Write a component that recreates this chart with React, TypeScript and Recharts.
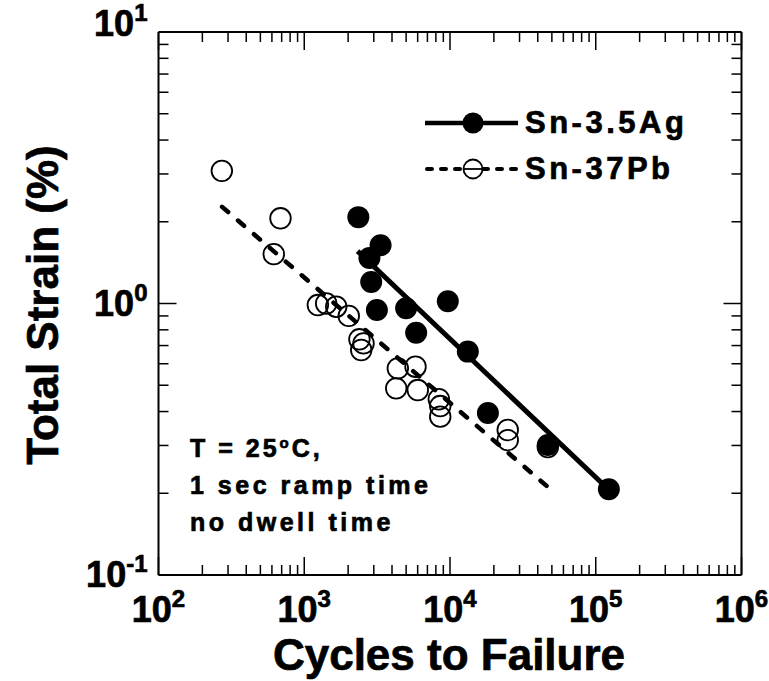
import { ScatterChart, Scatter, XAxis, YAxis, Customized } from "recharts"

const FONT = '"Liberation Sans", Arial, Helvetica, sans-serif'

// Sn-3.5Ag (filled symbols)
const agCycles = [2350, 3340, 2800, 2880, 3150, 5000, 5860, 9660, 13250, 18200, 46900, 123000]
const agStrain = [2.08, 1.64, 1.47, 1.2, 0.946, 0.96, 0.78, 1.02, 0.665, 0.395, 0.301, 0.207]

// Sn-37Pb (open symbols)
const pbCycles = [272, 687, 618, 1240, 1414, 1657, 2020, 2390, 2550, 2460, 4385, 5800, 4275, 6010, 8380, 8570, 8570, 24900, 24900, 46900]
const pbStrain = [3.08, 2.06, 1.52, 0.987, 1.0, 0.973, 0.9, 0.738, 0.713, 0.674, 0.577, 0.585, 0.487, 0.48, 0.444, 0.419, 0.383, 0.342, 0.314, 0.296]

// power-law fit lines (end points)
const agFitCycles = [2320, 122000]
const agFitStrain = [1.56, 0.207]
const pbFitCycles = [273, 46900]
const pbFitStrain = [2.27, 0.211]

const xDecades = [100, 1000, 10000, 100000, 1000000]
const yDecades = [0.1, 1, 10]
const minorSteps = [2, 3, 4, 5, 6, 7, 8, 9]

const seriesNames = ["Sn-3.5Ag", "Sn-37Pb"]
const notes = ["1 sec ramp time", "no dwell time"]

const withMinors = (decades: number[]) =>
  decades.flatMap((d, i) =>
    i < decades.length - 1 ? [d, ...minorSteps.map((m) => +(d * m).toPrecision(6))] : [d]
  )

const xTicks = withMinors(xDecades)
const yTicks = withMinors(yDecades)

const zip = (xs: number[], ys: number[]) => xs.map((x, i) => ({ x, y: ys[i] }))

const expOf = (v: number) => {
  const e = Math.log10(v)
  return Math.abs(e - Math.round(e)) < 1e-6 ? Math.round(e) : null
}

const MAJOR = 18
const MINOR = 10
const BOLD = { fontFamily: FONT, fontWeight: "bold" as const, fill: "#000", stroke: "#000", strokeWidth: 0.7 }

function BottomTick({ x, y, payload }: any) {
  const e = expOf(payload.value)
  return (
    <g>
      <line x1={x} x2={x} y1={y} y2={y - (e !== null ? MAJOR : MINOR)} stroke="#000" strokeWidth={1.5} />
      {e !== null && (
        <text x={x} y={y + 47} textAnchor="middle" fontSize={36} {...BOLD}>
          10
          <tspan dy={-15} fontSize={24}>{e}</tspan>
        </text>
      )}
    </g>
  )
}

function TopTick({ x, y, payload }: any) {
  const e = expOf(payload.value)
  return <line x1={x} x2={x} y1={y} y2={y + (e !== null ? MAJOR : MINOR)} stroke="#000" strokeWidth={1.5} />
}

function LeftTick({ x, y, payload }: any) {
  const e = expOf(payload.value)
  return (
    <g>
      <line x1={x} x2={x + (e !== null ? MAJOR : MINOR)} y1={y} y2={y} stroke="#000" strokeWidth={1.5} />
      {e !== null && (
        <text x={x - 11} y={y + (e === 1 ? 4 : 12)} textAnchor="end" fontSize={36} {...BOLD}>
          10
          <tspan dy={-15} fontSize={24}>{e}</tspan>
        </text>
      )}
    </g>
  )
}

function RightTick({ x, y, payload }: any) {
  const e = expOf(payload.value)
  return <line x1={x} x2={x - (e !== null ? MAJOR : MINOR)} y1={y} y2={y} stroke="#000" strokeWidth={1.5} />
}

const FilledDot = ({ cx, cy }: any) => <circle cx={cx} cy={cy} r={11} fill="#000" />
const OpenDot = ({ cx, cy }: any) => <circle cx={cx} cy={cy} r={10.3} fill="none" stroke="#000" strokeWidth={1.8} />
const NoDot = () => <g />

function Overlay() {
  return (
    <g>
      {/* legend */}
      <line x1={425} x2={518} y1={123} y2={123} stroke="#000" strokeWidth={4.5} />
      <circle cx={473} cy={123} r={10.5} fill="#000" />
      <text x={525} y={133} fontSize={31} letterSpacing={3.5} {...BOLD}>{seriesNames[0]}</text>
      <line x1={427} x2={518} y1={169} y2={169} stroke="#000" strokeWidth={4} strokeDasharray="5 9" strokeLinecap="round" />
      <circle cx={473} cy={169} r={9.5} fill="#fff" stroke="#000" strokeWidth={1.8} />
      <line x1={464} x2={482} y1={169} y2={169} stroke="#000" strokeWidth={1.8} />
      <text x={525} y={179} fontSize={31} letterSpacing={3.5} {...BOLD}>{seriesNames[1]}</text>

      {/* test conditions */}
      <text x={190} y={457} fontSize={25} letterSpacing={3} {...BOLD}>
        T = 25<tspan dy={-9} fontSize={15}>o</tspan>
        <tspan dy={9}>C,</tspan>
      </text>
      <text x={190} y={494} fontSize={25} letterSpacing={3.5} {...BOLD}>{notes[0]}</text>
      <text x={190} y={531} fontSize={25} letterSpacing={3.5} {...BOLD}>{notes[1]}</text>

      {/* axis titles */}
      <text x={449} y={670} textAnchor="middle" fontSize={44} {...BOLD}>Cycles to Failure</text>
      <text x={0} y={0} transform="translate(58 305) rotate(-90)" textAnchor="middle" fontSize={44} {...BOLD}>
        Total Strain (%)
      </text>
    </g>
  )
}

const axisLine = { stroke: "#000", strokeWidth: 2 }

export default function App() {
  return (
    <div>
      <style>{"body{margin:0}"}</style>
      <ScatterChart width={769} height={681} margin={{ top: 31, right: 26.5, bottom: 105, left: 157.5 }}>
        <XAxis
          xAxisId="b"
          dataKey="x"
          type="number"
          scale="log"
          domain={[100, 1000000]}
          allowDataOverflow
          ticks={xTicks}
          interval={0}
          height={1}
          tickSize={0}
          tickMargin={0}
          tick={BottomTick}
          axisLine={axisLine}
        />
        <XAxis
          xAxisId="t"
          orientation="top"
          dataKey="x"
          type="number"
          scale="log"
          domain={[100, 1000000]}
          allowDataOverflow
          ticks={xTicks}
          interval={0}
          height={1}
          tickSize={0}
          tickMargin={0}
          tick={TopTick}
          axisLine={axisLine}
        />
        <YAxis
          yAxisId="l"
          dataKey="y"
          type="number"
          scale="log"
          domain={[0.1, 10]}
          allowDataOverflow
          ticks={yTicks}
          interval={0}
          width={1}
          tickSize={0}
          tickMargin={0}
          tick={LeftTick}
          axisLine={axisLine}
        />
        <YAxis
          yAxisId="r"
          orientation="right"
          dataKey="y"
          type="number"
          scale="log"
          domain={[0.1, 10]}
          allowDataOverflow
          ticks={yTicks}
          interval={0}
          width={1}
          tickSize={0}
          tickMargin={0}
          tick={RightTick}
          axisLine={axisLine}
        />
        <Scatter
          xAxisId="b"
          yAxisId="l"
          data={zip(pbFitCycles, pbFitStrain)}
          line={{ stroke: "#000", strokeWidth: 4.5, strokeDasharray: "8 13", strokeLinecap: "round" }}
          shape={NoDot}
          isAnimationActive={false}
        />
        <Scatter
          xAxisId="b"
          yAxisId="l"
          data={zip(agFitCycles, agFitStrain)}
          line={{ stroke: "#000", strokeWidth: 5 }}
          shape={NoDot}
          isAnimationActive={false}
        />
        <Scatter xAxisId="b" yAxisId="l" data={zip(pbCycles, pbStrain)} shape={OpenDot} isAnimationActive={false} />
        <Scatter xAxisId="b" yAxisId="l" data={zip(agCycles, agStrain)} shape={FilledDot} isAnimationActive={false} />
        <Customized component={Overlay} />
      </ScatterChart>
    </div>
  )
}
